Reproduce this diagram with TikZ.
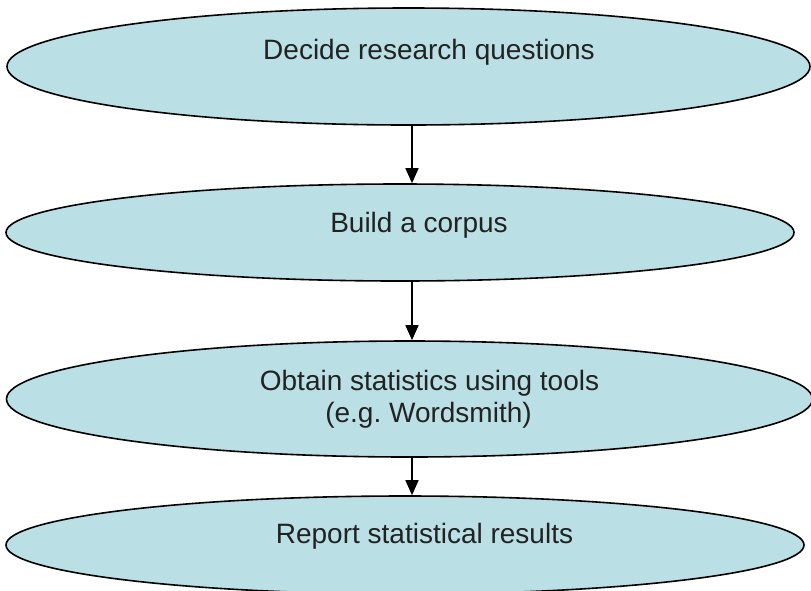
\documentclass[tikz,border=0pt]{standalone}
\usepackage{fontspec}
\setmainfont{Liberation Sans}
\usetikzlibrary{shapes.geometric,arrows.meta}
\definecolor{stagefill}{RGB}{186,224,229}
\definecolor{stagetext}{RGB}{34,34,34}
\frenchspacing
\begin{document}
\begin{tikzpicture}[x=1pt,y=-1pt,
  stage/.style={ellipse,draw=black,fill=stagefill,line width=1.6pt,inner sep=0pt},
  label/.style={anchor=base,inner sep=0pt,text=stagetext,font=\fontsize{28}{32}\selectfont},
  flow/.style={line width=1.5pt,-{Triangle[length=15pt,width=13pt]}}]
\useasboundingbox (0,0) rectangle (811,590);
% process stages
\node[stage,minimum width=803pt,minimum height=117pt] (e1) at (408.5,66.5) {};
\node[stage,minimum width=788pt,minimum height=97pt] (e2) at (400,232.5) {};
\node[stage,minimum width=806pt,minimum height=116pt] (e3) at (409.5,399) {};
\node[stage,minimum width=798pt,minimum height=98pt] (e4) at (405,545) {};
% stage texts
\node[label] (t1) at (429,59) {Decide research questions};
\node[label] (t2) at (419,232) {Build a corpus};
\node[label] (t3a) at (429.5,390) {Obtain statistics using tools};
\node[label] (t3b) at (428.5,422) {(e.g.\ Wordsmith)};
\node[label] (t4) at (424.5,543) {Report statistical results};
% connectors
\coordinate (ax) at (412,0);
\draw[flow] (e1.south -| ax) -- (e2.north -| ax);
\draw[flow] (e2.south -| ax) -- (e3.north -| ax);
\draw[flow] (e3.south -| ax) -- (e4.north -| ax);
\end{tikzpicture}
\end{document}
